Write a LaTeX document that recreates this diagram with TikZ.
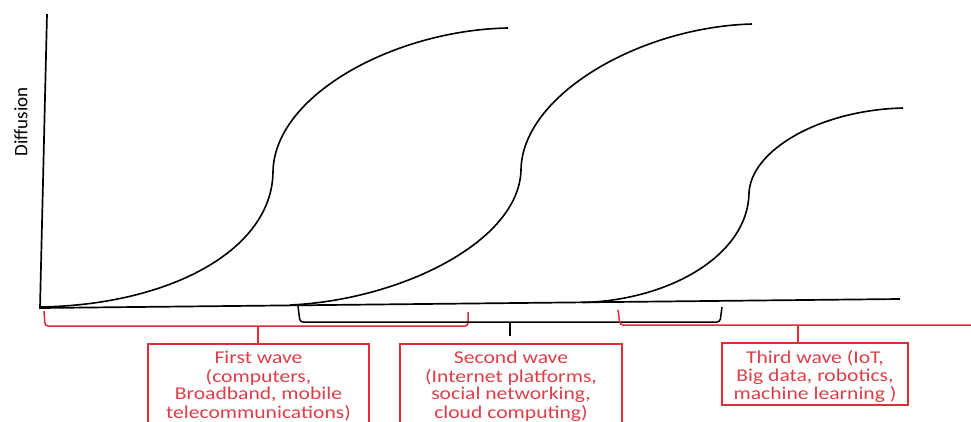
\documentclass[tikz,border=0pt]{standalone}
\usepackage{fontspec}
\setmainfont{Carlito}
\definecolor{wred}{RGB}{222,45,55}
\definecolor{wtext}{RGB}{222,62,72}
\tikzset{
  x=1pt, y=-1pt,
  axisline/.style={line width=1.7pt, black},
  wavecurve/.style={line width=1.6pt, black},
  redbrace/.style={line width=1.5pt, wred, rounded corners=3pt},
  blackbrace/.style={line width=1.5pt, black, rounded corners=3pt},
  stemline/.style={line width=2.6pt},
  boxline/.style={draw=wred, line width=1.3pt},
  wavetext/.style={text=wtext, anchor=north, inner sep=0pt}
}
\newcommand{\wavelines}[1]{\scalebox{1.2}[1]{\fontsize{18}{17.6}\selectfont\begin{tabular}{@{}c@{}}#1\end{tabular}}}
\begin{document}
\begin{tikzpicture}
\useasboundingbox (0,0) rectangle (971,421);
% axes
\coordinate (ytop) at (47,14);
\coordinate (origin) at (40,308);
\coordinate (xend) at (900,299);
\draw[axisline] (ytop) -- (origin) -- (xend);
\node[rotate=90, font=\fontsize{19}{20}\selectfont] (ylab) at (21,122) {Diffusion};
% curves
\coordinate (c1s) at (40,307);
\coordinate (c1i) at (273,172);
\coordinate (c1e) at (508,28);
\draw[wavecurve] (c1s) .. controls (170,305) and (272,250) .. (c1i)
  .. controls (274,95) and (395,30) .. (c1e);
\coordinate (c2s) at (290,305);
\coordinate (c2i) at (521,170);
\coordinate (c2e) at (752,24);
\draw[wavecurve] (c2s) .. controls (400,300) and (519,242) .. (c2i)
  .. controls (522,95) and (640,27) .. (c2e);
\coordinate (c3s) at (583,302.5);
\coordinate (c3i) at (749,193);
\coordinate (c3e) at (903,108);
\draw[wavecurve] (c3s) .. controls (670,300) and (748,255) .. (c3i)
  .. controls (751,150) and (820,110) .. (c3e);
% brackets
\coordinate (r1a) at (44,311);
\coordinate (r1b) at (468,312);
\coordinate (r1m) at (258,326);
\draw[redbrace] (r1a) -- (45,326) -- (468,326) -- (r1b);
\coordinate (b2a) at (298,306);
\coordinate (b2b) at (722,307);
\coordinate (b2m) at (510,322);
\draw[blackbrace] (b2a) -- (300,322) -- (720,322) -- (b2b);
\coordinate (r3a) at (618,310);
\coordinate (r3m) at (798,325);
\draw[redbrace] (r3a) -- (620,325) -- (971,325);
% boxes
\draw[boxline] (148,344) rectangle (369,426);
\node[wavetext] (w1) at (258.5,351) {\wavelines{First wave\\(computers,\\Broadband, mobile\\telecommunications)}};
\draw[boxline] (400,344) rectangle (622,426);
\node[wavetext] (w2) at (511,351) {\wavelines{Second wave\\(Internet platforms,\\social networking,\\cloud computing)}};
\draw[boxline] (722,343) rectangle (908,405);
\node[wavetext] (w3) at (815,350) {\wavelines{Third wave (IoT,\\Big data, robotics,\\machine learning )}};
% stems
\draw[stemline, wred] (r1m) -- (258,344);
\draw[stemline, black] (b2m) -- (510,336);
\draw[stemline, wred] (r3m) -- (798,343);
\end{tikzpicture}
\end{document}
